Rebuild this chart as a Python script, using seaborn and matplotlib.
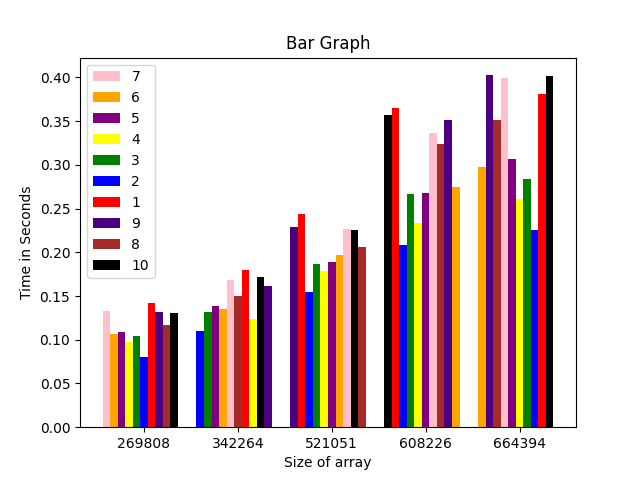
import matplotlib
matplotlib.use("Agg")
import matplotlib.pyplot as plt
import pandas as pd
import seaborn as sns

# array sizes on the x axis
sizes = ["269808", "342264", "521051", "608226", "664394"]

# series, in legend order
labels = ["7", "6", "5", "4", "3", "2", "1", "9", "8", "10"]
colors = ["pink", "orange", "purple", "yellow", "green",
          "blue", "red", "indigo", "brown", "black"]

# time in seconds per series, one value per array size
times = {
    "7":  [0.1328, 0.1682, 0.2265, 0.3362, 0.3990],
    "6":  [0.1065, 0.1351, 0.1968, 0.2745, 0.2974],
    "5":  [0.1088, 0.1385, 0.1888, 0.2677, 0.3065],
    "4":  [0.0974, 0.1236, 0.1785, 0.2334, 0.2608],
    "3":  [0.1042, 0.1317, 0.1865, 0.2665, 0.2837],
    "2":  [0.0802, 0.1099, 0.1545, 0.2082, 0.2254],
    "1":  [0.1419, 0.1797, 0.2437, 0.3648, 0.3809],
    "9":  [0.1317, 0.1613, 0.2288, 0.3511, 0.4025],
    "8":  [0.1168, 0.1499, 0.2059, 0.3237, 0.3511],
    "10": [0.1305, 0.1717, 0.2254, 0.3568, 0.4014],
}

# left-to-right order of the series inside each group
slot_order = [
    ["7", "6", "5", "4", "3", "2", "1", "9", "8", "10"],
    ["2", "3", "5", "6", "7", "8", "1", "4", "10", "9"],
    ["9", "1", "2", "3", "4", "5", "6", "7", "10", "8"],
    ["10", "1", "2", "3", "4", "5", "7", "8", "9", "6"],
    ["6", "9", "8", "7", "5", "4", "3", "2", "1", "10"],
]

bar_w = 0.08

rows = []
for g, order in enumerate(slot_order):
    for slot, lab in enumerate(order):
        rows.append({"pos": round(g + (slot - 5) * bar_w, 4),
                     "series": lab,
                     "time": times[lab][g]})
df = pd.DataFrame(rows)

fig, ax = plt.subplots(figsize=(6.4, 4.8), dpi=100)
sns.barplot(data=df, x="pos", y="time", hue="series", hue_order=labels,
            palette=dict(zip(labels, colors)), native_scale=True,
            dodge=False, width=1, saturation=1, errorbar=None,
            linewidth=0, ax=ax)

ax.set_xticks(range(len(sizes)))
ax.set_xticklabels(sizes)
ax.set_title("Bar Graph")
ax.set_xlabel("Size of array")
ax.set_ylabel("Time in Seconds")
handles, lbls = ax.get_legend_handles_labels()
ax.legend(handles, lbls, loc="upper left")

fig.savefig("out.png", dpi=100)
